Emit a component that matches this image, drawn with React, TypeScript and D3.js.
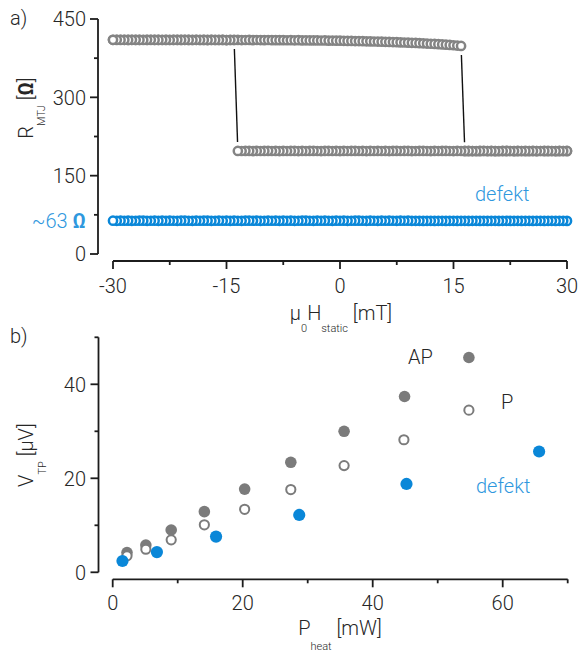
import React from "react";
import * as d3 from "d3";

// ---------- Panel a) data: field sweep grid [mT] and R_MTJ [Ω] ----------
const fieldGrid = [
  -30, -29.5, -29, -28.5, -28, -27.5, -27, -26.5, -26, -25.5,
  -25, -24.5, -24, -23.5, -23, -22.5, -22, -21.5, -21, -20.5,
  -20, -19.5, -19, -18.5, -18, -17.5, -17, -16.5, -16, -15.5,
  -15, -14.5, -14, -13.5, -13, -12.5, -12, -11.5, -11, -10.5,
  -10, -9.5, -9, -8.5, -8, -7.5, -7, -6.5, -6, -5.5,
  -5, -4.5, -4, -3.5, -3, -2.5, -2, -1.5, -1, -0.5,
  0, 0.5, 1, 1.5, 2, 2.5, 3, 3.5, 4, 4.5,
  5, 5.5, 6, 6.5, 7, 7.5, 8, 8.5, 9, 9.5,
  10, 10.5, 11, 11.5, 12, 12.5, 13, 13.5, 14, 14.5,
  15, 15.5, 16, 16.5, 17, 17.5, 18, 18.5, 19, 19.5,
  20, 20.5, 21, 21.5, 22, 22.5, 23, 23.5, 24, 24.5,
  25, 25.5, 26, 26.5, 27, 27.5, 28, 28.5, 29, 29.5,
  30,
];

// sweep from -30 to +30 (values listed in fieldGrid order)
const rSweepUp = [
  410.2, 410.0, 410.3, 410.1, 409.9, 410.2, 410.0, 410.1, 410.3, 409.9,
  410.0, 410.2, 410.1, 409.8, 410.0, 410.1, 410.2, 409.9, 410.0, 410.1,
  409.9, 410.0, 410.1, 409.8, 410.0, 409.9, 410.1, 409.8, 409.9, 410.0,
  409.7, 409.9, 409.8, 410.0, 409.7, 409.8, 409.9, 409.6, 409.8, 409.7,
  409.6, 409.8, 409.5, 409.6, 409.4, 409.6, 409.3, 409.5, 409.2, 409.4,
  409.1, 409.2, 409.0, 409.1, 408.9, 408.8, 408.9, 408.6, 408.7, 408.5,
  408.4, 408.3, 408.1, 408.0, 407.8, 407.7, 407.5, 407.3, 407.2, 406.9,
  406.8, 406.5, 406.3, 406.1, 405.8, 405.6, 405.3, 405.0, 404.8, 404.4,
  404.1, 403.7, 403.4, 403.0, 402.6, 402.2, 401.7, 401.3, 400.8, 400.3,
  399.7, 399.1, 398.4, 196.9, 197.0, 197.1, 196.8, 197.0, 197.2, 196.9,
  197.1, 197.0, 196.8, 197.1, 197.0, 197.2, 196.9, 197.0, 197.1, 196.8,
  197.0, 197.1, 196.9, 197.2, 197.0, 196.8, 197.1, 197.0, 196.9, 197.1,
  197.0,
];

// sweep from +30 to -30 (values listed in fieldGrid order)
const rSweepDown = [
  410.1, 410.3, 410.0, 410.2, 409.9, 410.1, 410.2, 410.0, 409.8, 410.1,
  410.3, 410.0, 409.9, 410.2, 410.1, 409.8, 410.0, 410.2, 409.9, 410.1,
  410.0, 409.8, 410.1, 409.9, 410.0, 409.7, 409.9, 410.0, 409.8, 409.9,
  409.7, 409.8, 409.9, 197.4, 197.2, 197.5, 197.3, 197.1, 197.4, 197.2,
  197.3, 197.5, 197.2, 197.4, 197.1, 197.3, 197.2, 197.4, 197.3, 197.1,
  197.4, 197.2, 197.3, 197.5, 197.2, 197.1, 197.3, 197.4, 197.2, 197.3,
  197.1, 197.4, 197.2, 197.3, 197.5, 197.2, 197.3, 197.1, 197.4, 197.2,
  197.3, 197.2, 197.4, 197.1, 197.3, 197.5, 197.2, 197.3, 197.4, 197.1,
  197.2, 197.3, 197.4, 197.2, 197.1, 197.3, 197.2, 197.4, 197.3, 197.2,
  197.1, 197.3, 197.2, 197.4, 197.3, 197.1, 197.2, 197.3, 197.4, 197.2,
  197.3, 197.1, 197.2, 197.4, 197.3, 197.2, 197.1, 197.3, 197.2, 197.4,
  197.2, 197.3, 197.1, 197.2, 197.4, 197.3, 197.2, 197.1, 197.3, 197.2,
  197.3,
];

// defective junction (values listed in fieldGrid order)
const rDefekt = [
  63.8, 63.6, 63.9, 63.7, 63.8, 63.6, 63.7, 63.9, 63.8, 63.6,
  63.7, 63.8, 63.6, 63.9, 63.7, 63.8, 63.7, 63.6, 63.8, 63.9,
  63.7, 63.6, 63.8, 63.7, 63.9, 63.8, 63.6, 63.7, 63.8, 63.7,
  63.9, 63.6, 63.8, 63.7, 63.6, 63.8, 63.9, 63.7, 63.8, 63.6,
  63.7, 63.8, 63.7, 63.9, 63.6, 63.8, 63.7, 63.8, 63.6, 63.7,
  63.9, 63.8, 63.7, 63.6, 63.8, 63.7, 63.9, 63.7, 63.6, 63.8,
  63.7, 63.8, 63.6, 63.7, 63.9, 63.8, 63.7, 63.6, 63.8, 63.7,
  63.6, 63.8, 63.7, 63.9, 63.7, 63.6, 63.8, 63.7, 63.8, 63.6,
  63.5, 63.6, 63.4, 63.6, 63.5, 63.4, 63.6, 63.5, 63.4, 63.6,
  63.5, 63.4, 63.5, 63.6, 63.4, 63.5, 63.6, 63.4, 63.5, 63.4,
  63.6, 63.5, 63.4, 63.5, 63.6, 63.4, 63.5, 63.5, 63.4, 63.6,
  63.5, 63.4, 63.6, 63.5, 63.4, 63.5, 63.6, 63.4, 63.5, 63.5,
  63.4,
];

const topXTicks = [-30, -15, 0, 15, 30];
const topXMinor = [-22.5, -7.5, 7.5, 22.5];
const topYTicks = [0, 150, 300, 450];
const topYMinor = [75, 225, 375];

// ---------- Panel b) data: P_heat [mW] vs V_TP [µV] ----------
const pHeatAP = [2.2, 5.1, 9.0, 14.1, 20.3, 27.4, 35.6, 44.9, 54.8];
const vAP = [4.2, 5.8, 9.0, 12.9, 17.7, 23.4, 30.0, 37.4, 45.7];
const pHeatP = [2.2, 5.1, 9.0, 14.1, 20.3, 27.4, 35.6, 44.8, 54.8];
const vP = [3.5, 4.9, 6.9, 10.1, 13.4, 17.6, 22.7, 28.2, 34.5];
const pHeatDefekt = [1.5, 6.8, 15.9, 28.7, 45.2, 65.6];
const vDefekt = [2.4, 4.3, 7.6, 12.2, 18.8, 25.7];

const botXTicks = [0, 20, 40, 60];
const botXMinor = [10, 30, 50, 70];
const botYTicks = [0, 20, 40];
const botYMinor = [10, 30, 50];

// ---------- styles ----------
const FONT = "Roboto, 'Open Sans', 'Liberation Sans', sans-serif";
const AXIS = "#1c1c1c";
const TEXT = "#262626";
const GRAY = "#848484";
const GRAY_FILL = "#7b7b7b";
const BLUE = "#0a87d8";
const BLUE_TEXT = "#2f98de";

type Pt = { x: number; y: number };

function shorten(a: Pt, b: Pt, d: number) {
  const dx = b.x - a.x;
  const dy = b.y - a.y;
  const len = Math.hypot(dx, dy);
  const ux = dx / len;
  const uy = dy / len;
  return { x1: a.x + ux * d, y1: a.y + uy * d, x2: b.x - ux * d, y2: b.y - uy * d };
}

export default function App() {
  const xTop = d3.scaleLinear().domain([-30, 30]).range([113, 567]);
  const yTop = d3.scaleLinear().domain([0, 450]).range([254, 19]);
  const xBot = d3.scaleLinear().domain([0, 70]).range([112.7, 567.7]);
  const yBot = d3.scaleLinear().domain([0, 50]).range([572.3, 337.3]);

  const topAxisY = 261;
  const topAxisX = 98;
  const botAxisY = 579.3;
  const botAxisX = 98.5;

  // plot order: up-sweep ascending, then down-sweep descending
  const idx = fieldGrid.map((_, i) => i);
  const upSweep: Pt[] = idx.map((i) => ({ x: xTop(fieldGrid[i]), y: yTop(rSweepUp[i]) }));
  const downSweep: Pt[] = idx
    .slice()
    .reverse()
    .map((i) => ({ x: xTop(fieldGrid[i]), y: yTop(rSweepDown[i]) }));
  const defektSweep: Pt[] = idx
    .slice()
    .reverse()
    .map((i) => ({ x: xTop(fieldGrid[i]), y: yTop(rDefekt[i]) }));

  const jumps: { x1: number; y1: number; x2: number; y2: number }[] = [];
  [upSweep, downSweep].forEach((s) => {
    for (let k = 1; k < s.length; k++) {
      if (Math.abs(s[k].y - s[k - 1].y) > 40) jumps.push(shorten(s[k - 1], s[k], 9));
    }
  });

  const tickFont = 20;
  const mr = 4.1;
  const msw = 2.5;

  return (
    <svg
      width={580}
      height={653}
      viewBox="0 0 580 653"
      style={{ position: "absolute", left: 0, top: 0, background: "#fff" }}
      fontFamily={FONT}
      fontWeight={300}
    >
      <rect x={0} y={0} width={580} height={653} fill="#fff" />

      {/* ===== Panel a ===== */}
      <text x={10} y={25} fontSize={20} fill={TEXT}>a)</text>

      {/* jump lines */}
      {jumps.map((j, i) => (
        <line key={"j" + i} {...j} stroke="#111" strokeWidth={1.4} />
      ))}

      {/* markers */}
      <g fill="#fff" stroke={BLUE} strokeWidth={msw}>
        {defektSweep.map((p, i) => (
          <circle key={"d" + i} cx={p.x} cy={p.y} r={mr} />
        ))}
      </g>
      <g fill="#fff" stroke={GRAY} strokeWidth={msw}>
        {upSweep.map((p, i) => (
          <circle key={"u" + i} cx={p.x} cy={p.y} r={mr} />
        ))}
        {downSweep.map((p, i) => (
          <circle key={"w" + i} cx={p.x} cy={p.y} r={mr} />
        ))}
      </g>

      {/* y axis a */}
      <line x1={topAxisX} x2={topAxisX} y1={yTop(450)} y2={yTop(0)} stroke={AXIS} strokeWidth={1.8} />
      {topYTicks.map((t) => (
        <g key={"ty" + t}>
          <line x1={topAxisX - 8} x2={topAxisX} y1={yTop(t)} y2={yTop(t)} stroke={AXIS} strokeWidth={1.8} />
          <text x={86} y={yTop(t)} dy="0.36em" textAnchor="end" fontSize={tickFont} fill={TEXT}>
            {t}
          </text>
        </g>
      ))}
      {topYMinor.map((t) => (
        <line key={"tym" + t} x1={topAxisX - 4} x2={topAxisX} y1={yTop(t)} y2={yTop(t)} stroke={AXIS} strokeWidth={1.8} />
      ))}

      {/* x axis a */}
      <line x1={xTop(-30)} x2={xTop(30)} y1={topAxisY} y2={topAxisY} stroke={AXIS} strokeWidth={1.8} />
      {topXTicks.map((t) => (
        <g key={"tx" + t}>
          <line x1={xTop(t)} x2={xTop(t)} y1={topAxisY} y2={topAxisY + 8} stroke={AXIS} strokeWidth={1.8} />
          <text x={xTop(t)} y={293} textAnchor="middle" fontSize={tickFont} fill={TEXT}>
            {t}
          </text>
        </g>
      ))}
      {topXMinor.map((t) => (
        <line key={"txm" + t} x1={xTop(t)} x2={xTop(t)} y1={topAxisY} y2={topAxisY + 4} stroke={AXIS} strokeWidth={1.8} />
      ))}

      {/* axis labels a */}
      <text transform="translate(33,108) rotate(-90)" textAnchor="middle" fontSize={20} fill={TEXT}>
        <tspan>R</tspan>
        <tspan fontSize={11} dy={12}>MTJ</tspan>
        <tspan dy={-12}>{"  ["}</tspan>
        <tspan fontWeight={600}>Ω</tspan>
        <tspan>]</tspan>
      </text>
      <text x={341} y={320} textAnchor="middle" fontSize={20} fill={TEXT}>
        <tspan>μ</tspan>
        <tspan fontSize={11} dy={12}>0</tspan>
        <tspan dy={-12}>H</tspan>
        <tspan fontSize={11} dy={12}>static</tspan>
        <tspan dy={-12}>{"  [mT]"}</tspan>
      </text>

      <text x={475} y={201} fontSize={20} fill={BLUE_TEXT}>defekt</text>
      <text x={86} y={yTop(63)} dy="0.36em" textAnchor="end" fontSize={20} fill={BLUE_TEXT}>
        <tspan>~63 </tspan>
        <tspan fontWeight={600}>Ω</tspan>
      </text>

      {/* ===== Panel b ===== */}
      <text x={10} y={343} fontSize={20} fill={TEXT}>b)</text>

      {/* y axis b */}
      <line x1={botAxisX} x2={botAxisX} y1={yBot(50)} y2={yBot(0)} stroke={AXIS} strokeWidth={1.8} />
      {botYTicks.map((t) => (
        <g key={"by" + t}>
          <line x1={botAxisX - 8} x2={botAxisX} y1={yBot(t)} y2={yBot(t)} stroke={AXIS} strokeWidth={1.8} />
          <text x={86} y={yBot(t)} dy="0.36em" textAnchor="end" fontSize={tickFont} fill={TEXT}>
            {t}
          </text>
        </g>
      ))}
      {botYMinor.map((t) => (
        <line key={"bym" + t} x1={botAxisX - 4} x2={botAxisX} y1={yBot(t)} y2={yBot(t)} stroke={AXIS} strokeWidth={1.8} />
      ))}

      {/* x axis b */}
      <line x1={xBot(0)} x2={xBot(70)} y1={botAxisY} y2={botAxisY} stroke={AXIS} strokeWidth={1.8} />
      {botXTicks.map((t) => (
        <g key={"bx" + t}>
          <line x1={xBot(t)} x2={xBot(t)} y1={botAxisY} y2={botAxisY + 8} stroke={AXIS} strokeWidth={1.8} />
          <text x={xBot(t)} y={610} textAnchor="middle" fontSize={tickFont} fill={TEXT}>
            {t}
          </text>
        </g>
      ))}
      {botXMinor.map((t) => (
        <line key={"bxm" + t} x1={xBot(t)} x2={xBot(t)} y1={botAxisY} y2={botAxisY + 4} stroke={AXIS} strokeWidth={1.8} />
      ))}

      {/* points b */}
      {pHeatAP.map((p, i) => (
        <circle key={"ap" + i} cx={xBot(p)} cy={yBot(vAP[i])} r={5.8} fill={GRAY_FILL} />
      ))}
      {pHeatP.map((p, i) => (
        <circle key={"p" + i} cx={xBot(p)} cy={yBot(vP[i])} r={4.6} fill="#fff" stroke={GRAY_FILL} strokeWidth={2} />
      ))}
      {pHeatDefekt.map((p, i) => (
        <circle key={"df" + i} cx={xBot(p)} cy={yBot(vDefekt[i])} r={6.1} fill={BLUE} />
      ))}

      {/* labels b */}
      <text x={408} y={364} fontSize={20} fill={TEXT}>AP</text>
      <text x={501} y={409} fontSize={20} fill={TEXT}>P</text>
      <text x={476} y={493} fontSize={20} fill={BLUE_TEXT}>defekt</text>

      <text transform="translate(33,455) rotate(-90)" textAnchor="middle" fontSize={20} fill={TEXT}>
        <tspan>V</tspan>
        <tspan fontSize={11} dy={13}>TP</tspan>
        <tspan dy={-13}>{"  [μV]"}</tspan>
      </text>
      <text x={340} y={635} textAnchor="middle" fontSize={20} fill={TEXT}>
        <tspan>P</tspan>
        <tspan fontSize={11} dy={15}>heat</tspan>
        <tspan dy={-15}>{"  [mW]"}</tspan>
      </text>
    </svg>
  );
}
